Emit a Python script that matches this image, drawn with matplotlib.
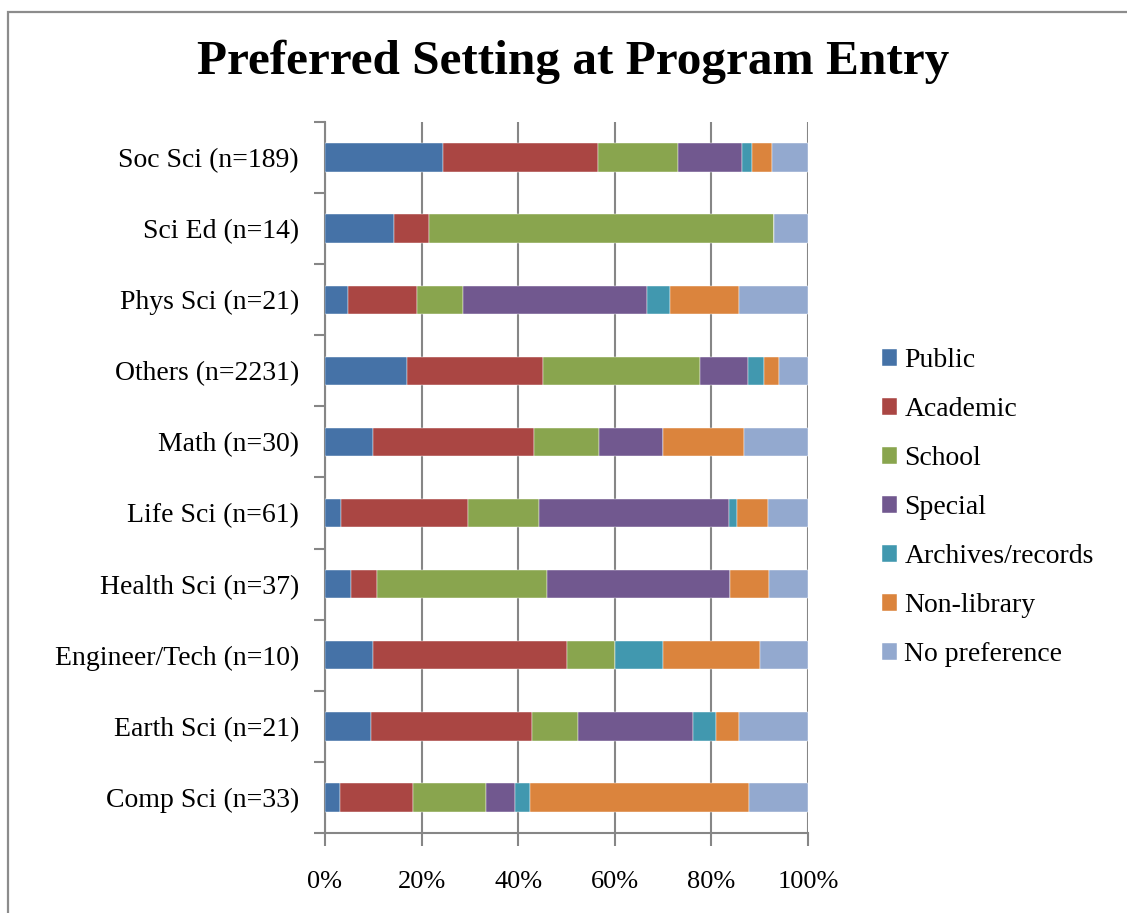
import matplotlib
matplotlib.use("Agg")
import matplotlib.pyplot as plt
from matplotlib.patches import Rectangle
from matplotlib.ticker import FixedLocator, PercentFormatter
import numpy as np

# Fields, listed bottom to top as they appear on the axis
fields = ["Comp Sci", "Earth Sci", "Engineer/Tech", "Health Sci", "Life Sci",
          "Math", "Others", "Phys Sci", "Sci Ed", "Soc Sci"]
n_resp = [33, 21, 10, 37, 61, 30, 2231, 21, 14, 189]

settings = ["Public", "Academic", "School", "Special",
            "Archives/records", "Non-library", "No preference"]

# Respondent counts per preferred setting, same order as fields
public      = [1, 2, 1, 2, 2, 3, 380, 1, 2, 46]
academic    = [5, 7, 4, 2, 16, 10, 626, 3, 1, 61]
school      = [5, 2, 1, 13, 9, 4, 728, 2, 10, 31]
special     = [2, 5, 0, 14, 24, 4, 220, 8, 0, 25]
archives    = [1, 1, 1, 0, 1, 0, 72, 1, 0, 4]
non_library = [15, 1, 2, 3, 4, 5, 73, 3, 0, 8]
no_pref     = [4, 3, 1, 3, 5, 4, 132, 3, 1, 14]

colors = ["#4572A7", "#AA4643", "#89A54E", "#71588F",
          "#4198AF", "#DB843D", "#93A9CF"]

tick_vals = [0, 20, 40, 60, 80, 100]

series = [public, academic, school, special, archives, non_library, no_pref]
totals = np.array(n_resp, dtype=float)
labels = [f"{f} (n={n})" for f, n in zip(fields, n_resp)]

serif = ["Liberation Serif", "DejaVu Serif"]
grid_c = "#868686"

W, H = 1127, 913
fig = plt.figure(figsize=(W / 100, H / 100), dpi=100)
fig.patch.set_facecolor("white")

# chart-area border (runs off the right and bottom edges)
fig.patches.append(Rectangle((8 / W, -0.05), 1.2, 1 - 12 / H + 0.05,
                             transform=fig.transFigure, fill=False,
                             edgecolor="#8c8c8c", linewidth=1.6, zorder=0))

ax = fig.add_axes([325 / W, 1 - 833 / H, 483 / W, 711 / H])

y = np.arange(len(fields))
left = np.zeros(len(fields))
for vals, name, col in zip(series, settings, colors):
    pct = np.array(vals, dtype=float) / totals * 100
    ax.barh(y, pct, left=left, height=0.4, color=col, label=name,
            edgecolor="white", linewidth=0.3, zorder=3)
    left += pct

ax.set_xlim(0, 100)
ax.set_ylim(-0.5, len(fields) - 0.5)

ax.xaxis.set_major_locator(FixedLocator(tick_vals))
ax.xaxis.set_major_formatter(PercentFormatter(decimals=0))
ax.grid(axis="x", color=grid_c, linewidth=1.5, zorder=1)

ax.set_yticks(y)
ax.set_yticklabels(labels)
ax.yaxis.set_minor_locator(FixedLocator(np.arange(-0.5, len(fields), 1.0)))
ax.tick_params(axis="y", which="major", length=0, pad=18.7)
ax.tick_params(axis="y", which="minor", length=8, width=1.5, color=grid_c)
ax.tick_params(axis="x", which="major", length=9, width=1.5, color=grid_c, pad=18)

for lab in ax.get_yticklabels():
    lab.set_fontfamily(serif)
    lab.set_fontsize(20)
for lab in ax.get_xticklabels():
    lab.set_fontfamily(serif)
    lab.set_fontsize(19)

for side in ("top", "right"):
    ax.spines[side].set_visible(False)
for side in ("left", "bottom"):
    ax.spines[side].set_color(grid_c)
    ax.spines[side].set_linewidth(1.5)

fig.text(573 / W, 1 - 62 / H, "Preferred Setting at Program Entry",
         ha="center", va="center", fontfamily=serif, fontweight="bold",
         fontsize=35.5)

handles, hl = ax.get_legend_handles_labels()
fig.legend(handles, hl, loc="upper left",
           bbox_to_anchor=(871 / W, 1 - 337 / H), frameon=False,
           prop={"family": serif, "size": 20},
           handlelength=0.55, handleheight=0.55, handletextpad=0.25,
           labelspacing=0.865, borderaxespad=0)

fig.savefig("out.png", dpi=100, facecolor="white")
